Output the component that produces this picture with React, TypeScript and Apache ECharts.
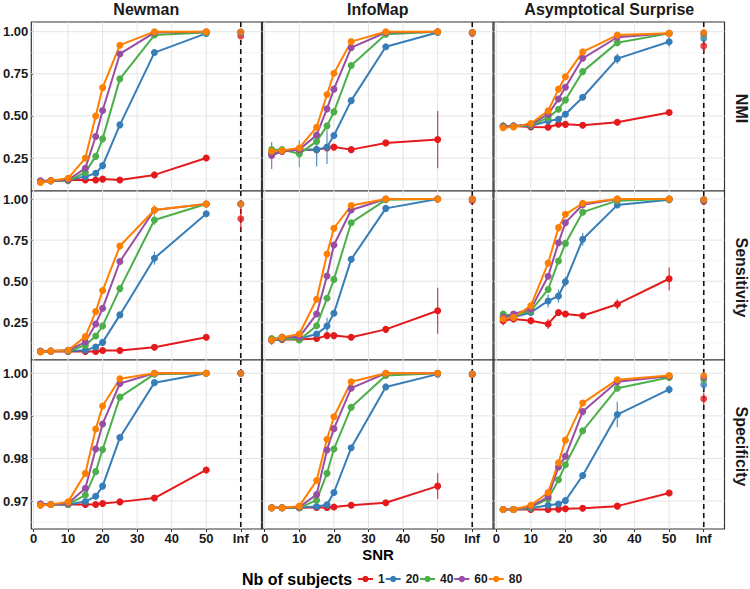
import React, { useEffect, useRef } from "react";
import * as echarts from "echarts";

// ---------------- data ----------------
const groups = ["1", "20", "40", "60", "80"];
const colors = ["#E41A1C", "#377EB8", "#4DAF4A", "#984EA3", "#FF7F00"];
const snr = [2, 5, 10, 15, 18, 20, 25, 35, 50];
const INF_X = 60;
const methods = ["Newman", "InfoMap", "Asymptotical Surprise"];
const metrics = ["NMI", "Sensitivity", "Specificity"];

const xTicks = [0, 10, 20, 30, 40, 50, 60];
const xTickLabels = ["0", "10", "20", "30", "40", "50", "Inf"];
const nmiTicks = [0.25, 0.5, 0.75, 1.0];
const nmiMinor = [0.125, 0.375, 0.625, 0.875];
const sensTicks = [0.25, 0.5, 0.75, 1.0];
const sensMinor = [0.125, 0.375, 0.625, 0.875];
const specTicks = [0.97, 0.98, 0.99, 1.0];
const specMinor = [0.965, 0.975, 0.985, 0.995];

// NMI
const newmanNMI = [
  [0.11, 0.115, 0.12, 0.12, 0.12, 0.125, 0.12, 0.15, 0.25],
  [0.11, 0.115, 0.12, 0.14, 0.16, 0.205, 0.447, 0.876, 0.99],
  [0.11, 0.115, 0.115, 0.165, 0.26, 0.364, 0.72, 0.98, 0.995],
  [0.115, 0.115, 0.12, 0.19, 0.378, 0.532, 0.868, 0.995, 1.0],
  [0.105, 0.115, 0.13, 0.25, 0.5, 0.668, 0.92, 1.0, 1.0],
];
const newmanNMIInf = [0.975, 0.995, 0.997, 0.998, 1.0];
const newmanNMIErr = [];

const infomapNMI = [
  [0.28, 0.29, 0.3, 0.3, 0.31, 0.315, 0.3, 0.34, 0.36],
  [0.28, 0.29, 0.3, 0.3, 0.315, 0.384, 0.591, 0.911, 0.995],
  [0.3, 0.3, 0.275, 0.349, 0.441, 0.524, 0.799, 0.985, 1.0],
  [0.265, 0.29, 0.3, 0.387, 0.542, 0.659, 0.905, 0.995, 1.0],
  [0.29, 0.295, 0.31, 0.433, 0.627, 0.753, 0.941, 1.0, 1.0],
];
const infomapNMIInf = [0.99, 0.995, 0.995, 0.995, 0.997];
const infomapNMIErr = [[0, 50, 0.17], [1, 15, 0.1], [1, 18, 0.1], [2, 10, 0.08], [3, 2, 0.08]];

const asympNMI = [
  [0.44, 0.44, 0.435, 0.433, 0.451, 0.45, 0.445, 0.463, 0.52],
  [0.44, 0.44, 0.44, 0.47, 0.48, 0.51, 0.611, 0.84, 0.94],
  [0.44, 0.44, 0.445, 0.49, 0.54, 0.595, 0.763, 0.935, 0.99],
  [0.435, 0.44, 0.45, 0.51, 0.6, 0.67, 0.842, 0.967, 0.99],
  [0.43, 0.435, 0.455, 0.53, 0.659, 0.733, 0.88, 0.98, 0.99],
];
const asympNMIInf = [0.915, 0.96, 0.98, 0.99, 0.995];
const asympNMIErr = [[1, 35, 0.03], [1, 50, 0.03], [0, 60, 0.04]];

// Sensitivity
const newmanSens = [
  [0.072, 0.072, 0.072, 0.072, 0.072, 0.078, 0.078, 0.098, 0.159],
  [0.072, 0.075, 0.075, 0.08, 0.1, 0.128, 0.295, 0.64, 0.91],
  [0.072, 0.075, 0.075, 0.11, 0.167, 0.228, 0.455, 0.872, 0.97],
  [0.075, 0.075, 0.08, 0.13, 0.24, 0.335, 0.62, 0.933, 0.97],
  [0.07, 0.075, 0.08, 0.163, 0.315, 0.443, 0.714, 0.933, 0.97],
];
const newmanSensInf = [0.88, 0.97, 0.97, 0.97, 0.97];
const newmanSensErr = [[1, 35, 0.04], [2, 35, 0.03], [4, 35, 0.03], [4, 25, 0.02], [0, 60, 0.07]];

const infomapSens = [
  [0.142, 0.146, 0.146, 0.152, 0.169, 0.169, 0.159, 0.207, 0.32],
  [0.14, 0.15, 0.15, 0.179, 0.227, 0.305, 0.633, 0.943, 1.0],
  [0.152, 0.155, 0.142, 0.229, 0.396, 0.511, 0.856, 0.995, 1.0],
  [0.142, 0.16, 0.16, 0.3, 0.532, 0.72, 0.933, 1.0, 1.0],
  [0.142, 0.158, 0.179, 0.39, 0.665, 0.822, 0.96, 1.0, 1.0],
];
const infomapSensInf = [0.99, 1.0, 1.0, 1.0, 1.0];
const infomapSensErr = [[0, 50, 0.14], [0, 35, 0.02], [1, 18, 0.05], [3, 2, 0.03]];

const asympSens = [
  [0.26, 0.27, 0.26, 0.24, 0.31, 0.3, 0.29, 0.36, 0.515],
  [0.28, 0.28, 0.31, 0.38, 0.41, 0.497, 0.755, 0.963, 0.995],
  [0.3, 0.29, 0.32, 0.45, 0.623, 0.73, 0.92, 0.99, 1.0],
  [0.28, 0.3, 0.33, 0.53, 0.734, 0.856, 0.965, 1.0, 1.0],
  [0.27, 0.28, 0.35, 0.61, 0.826, 0.907, 0.974, 1.0, 1.0],
];
const asympSensInf = [0.985, 0.99, 0.995, 0.995, 0.997];
const asympSensErr = [
  [0, 2, 0.03], [0, 15, 0.03], [0, 35, 0.03], [0, 50, 0.07],
  [1, 5, 0.03], [1, 15, 0.04], [1, 18, 0.04], [1, 20, 0.03], [1, 25, 0.04],
  [2, 20, 0.02], [4, 20, 0.02],
];

// Specificity
const newmanSpec = [
  [0.9691, 0.9692, 0.9692, 0.9692, 0.9692, 0.9694, 0.9698, 0.9707, 0.9773],
  [0.9693, 0.9692, 0.9692, 0.9699, 0.9711, 0.9735, 0.9849, 0.9978, 1.0],
  [0.9692, 0.9692, 0.9692, 0.9714, 0.9769, 0.9821, 0.9944, 0.9998, 1.0],
  [0.9693, 0.9692, 0.9694, 0.973, 0.9822, 0.9881, 0.9976, 1.0, 1.0],
  [0.969, 0.9692, 0.9698, 0.9765, 0.9869, 0.9923, 0.9987, 1.0, 1.0],
];
const newmanSpecInf = [1.0, 1.0, 1.0, 1.0, 1.0];
const newmanSpecErr = [[0, 50, 0.0006]];

const infomapSpec = [
  [0.9684, 0.9684, 0.9684, 0.9685, 0.9685, 0.9686, 0.969, 0.9696, 0.9735],
  [0.9684, 0.9684, 0.9685, 0.9687, 0.9691, 0.972, 0.9825, 0.9968, 0.9998],
  [0.9684, 0.9684, 0.9684, 0.9702, 0.9765, 0.9822, 0.992, 0.9995, 1.0],
  [0.9684, 0.9684, 0.9686, 0.9715, 0.982, 0.987, 0.9965, 1.0, 1.0],
  [0.9684, 0.9684, 0.9688, 0.9748, 0.9845, 0.9898, 0.998, 1.0, 1.0],
];
const infomapSpecInf = [0.9997, 0.9998, 0.9998, 0.9998, 0.9998];
const infomapSpecErr = [[0, 50, 0.003]];

const asympSpec = [
  [0.968, 0.968, 0.968, 0.968, 0.9681, 0.9682, 0.9683, 0.9688, 0.9719],
  [0.968, 0.968, 0.9683, 0.969, 0.9693, 0.9701, 0.976, 0.9903, 0.9962],
  [0.968, 0.968, 0.9685, 0.9705, 0.975, 0.9785, 0.9865, 0.9965, 0.999],
  [0.968, 0.968, 0.9687, 0.971, 0.978, 0.9805, 0.991, 0.998, 0.9993],
  [0.968, 0.968, 0.969, 0.972, 0.979, 0.9843, 0.993, 0.9985, 0.9995],
];
const asympSpecInf = [0.994, 0.9973, 0.9985, 0.999, 0.9995];
const asympSpecErr = [[0, 50, 0.0006], [1, 35, 0.003], [1, 50, 0.001], [0, 60, 0.0015], [1, 60, 0.0012]];

const panelLines = [
  [newmanNMI, infomapNMI, asympNMI],
  [newmanSens, infomapSens, asympSens],
  [newmanSpec, infomapSpec, asympSpec],
];
const panelInf = [
  [newmanNMIInf, infomapNMIInf, asympNMIInf],
  [newmanSensInf, infomapSensInf, asympSensInf],
  [newmanSpecInf, infomapSpecInf, asympSpecInf],
];
const panelErr = [
  [newmanNMIErr, infomapNMIErr, asympNMIErr],
  [newmanSensErr, infomapSensErr, asympSensErr],
  [newmanSpecErr, infomapSpecErr, asympSpecErr],
];
const rowTicks = [nmiTicks, sensTicks, specTicks];
const rowMinor = [nmiMinor, sensMinor, specMinor];

// ---------------- layout ----------------
const FONT = "'Liberation Sans', Arial, Helvetica, sans-serif";
const colLeft = [31, 262.5, 494];
const panelW = 230.5;
const rowTop = [22, 191, 360];
const panelH = 169;
const xMin = -0.65;
const xMax = 66;
const yRange = [
  [0.0545, 1.0575],
  [0.0207, 1.0487],
  [0.96343, 1.00312],
];

function buildOption() {
  const grids: any[] = [];
  const xAxes: any[] = [];
  const yAxes: any[] = [];
  const series: any[] = [];

  for (let r = 0; r < 3; r++) {
    for (let c = 0; c < 3; c++) {
      const p = r * 3 + c;
      grids.push({
        left: colLeft[c],
        top: rowTop[r],
        width: panelW,
        height: panelH,
        show: true,
        backgroundColor: "#ffffff",
        borderColor: "#333333",
        borderWidth: 1.2,
        containLabel: false,
      });
      const bottomRow = r === 2;
      const leftCol = c === 0;
      xAxes.push({
        gridIndex: p,
        type: "value",
        min: xMin,
        max: xMax,
        axisLine: { show: false },
        splitLine: { show: false },
        axisTick: bottomRow
          ? { show: true, customValues: xTicks, length: 3, lineStyle: { color: "#333", width: 1 } }
          : { show: false },
        axisLabel: bottomRow
          ? {
              show: true,
              customValues: xTicks,
              margin: 3,
              fontSize: 13,
              fontWeight: "bold",
              color: "#1a1a1a",
              fontFamily: FONT,
              formatter: (v: number) => xTickLabels[xTicks.indexOf(v)] ?? String(v),
            }
          : { show: false },
      });
      const [ymin, ymax] = yRange[r];
      yAxes.push({
        gridIndex: p,
        type: "value",
        min: ymin,
        max: ymax,
        axisLine: { show: false },
        splitLine: { show: false },
        axisTick: leftCol
          ? { show: true, customValues: rowTicks[r], length: 2, lineStyle: { color: "#333", width: 1 } }
          : { show: false },
        axisLabel: leftCol
          ? {
              show: true,
              customValues: rowTicks[r],
              margin: 3,
              fontSize: 13,
              fontWeight: "bold",
              color: "#1a1a1a",
              fontFamily: FONT,
              formatter: (v: number) => v.toFixed(2),
            }
          : { show: false },
      });

      // grid lines + dashed Inf line
      const yMid = (ymin + ymax) / 2;
      const gl: any[] = [];
      rowMinor[r].forEach((v) => gl.push([30, v, 1]));
      rowTicks[r].forEach((v) => gl.push([30, v, 0]));
      xTicks.forEach((v) => gl.push([v, yMid, 2]));
      gl.push([INF_X, yMid, 4]);
      series.push({
        type: "custom",
        xAxisIndex: p,
        yAxisIndex: p,
        silent: true,
        z: 1,
        dimensions: ["x", "y", "k"],
        encode: { x: 0, y: 1 },
        data: gl,
        renderItem: (params: any, api: any) => {
          const cs = params.coordSys;
          const k = api.value(2);
          if (k === 0 || k === 1) {
            const y = api.coord([api.value(0), api.value(1)])[1];
            return {
              type: "line",
              shape: { x1: cs.x, y1: y, x2: cs.x + cs.width, y2: y },
              style: { stroke: k === 0 ? "#e4e4e4" : "#f0f0f0", lineWidth: k === 0 ? 1 : 0.6 },
            };
          }
          const x = api.coord([api.value(0), api.value(1)])[0];
          if (k === 4) {
            return {
              type: "line",
              shape: { x1: x, y1: cs.y, x2: x, y2: cs.y + cs.height },
              style: { stroke: "#111111", lineWidth: 1.6, lineDash: [5, 4] },
            };
          }
          return {
            type: "line",
            shape: { x1: x, y1: cs.y, x2: x, y2: cs.y + cs.height },
            style: { stroke: k === 2 ? "#e4e4e4" : "#f0f0f0", lineWidth: k === 2 ? 1 : 0.6 },
          };
        },
      });

      const lines = panelLines[r][c];
      const inf = panelInf[r][c];

      // error bars
      const errData = panelErr[r][c].map(([g, x, e]) => {
        const y = x === INF_X ? inf[g] : lines[g][snr.indexOf(x)];
        return [x, y, e, g];
      });
      series.push({
        type: "custom",
        xAxisIndex: p,
        yAxisIndex: p,
        silent: true,
        z: 2,
        dimensions: ["x", "y", "e", "g"],
        encode: { x: 0, y: 1 },
        data: errData,
        renderItem: (params: any, api: any) => {
          const x = api.value(0);
          const y = api.value(1);
          const e = api.value(2);
          const g = api.value(3);
          const p1 = api.coord([x, y - e]);
          const p2 = api.coord([x, y + e]);
          return {
            type: "line",
            shape: { x1: p1[0], y1: p1[1], x2: p2[0], y2: p2[1] },
            style: { stroke: colors[g], lineWidth: 1.2, opacity: 0.85 },
          };
        },
      });

      for (let g = 0; g < groups.length; g++) {
        series.push({
          type: "line",
          name: groups[g],
          xAxisIndex: p,
          yAxisIndex: p,
          z: 3,
          data: snr.map((x, i) => [x, lines[g][i]]),
          symbol: "circle",
          symbolSize: 7,
          showSymbol: true,
          color: colors[g],
          lineStyle: { color: colors[g], width: 2 },
          itemStyle: { color: colors[g] },
          emphasis: { disabled: true },
        });
        series.push({
          type: "scatter",
          name: groups[g],
          xAxisIndex: p,
          yAxisIndex: p,
          z: 3,
          data: [[INF_X, inf[g]]],
          symbol: "circle",
          symbolSize: 7,
          itemStyle: { color: colors[g] },
          emphasis: { disabled: true },
        });
      }
    }
  }

  const graphics: any[] = [];
  methods.forEach((m, c) => {
    graphics.push({
      type: "text",
      x: colLeft[c] + panelW / 2,
      y: 9,
      style: {
        text: m,
        fill: "#1a1a1a",
        font: `bold 16px ${FONT}`,
        align: "center",
        verticalAlign: "middle",
        textAlign: "center",
        textVerticalAlign: "middle",
      },
    });
  });
  metrics.forEach((m, r) => {
    graphics.push({
      type: "text",
      x: 741,
      y: rowTop[r] + panelH / 2 + 2,
      rotation: -Math.PI / 2,
      style: {
        text: m,
        fill: "#1a1a1a",
        font: `bold 16px ${FONT}`,
        align: "center",
        verticalAlign: "middle",
        textAlign: "center",
        textVerticalAlign: "middle",
      },
    });
  });
  graphics.push({
    type: "text",
    x: 378,
    y: 554,
    style: {
      text: "SNR",
      fill: "#000",
      font: `bold 15px ${FONT}`,
      align: "center",
      verticalAlign: "middle",
      textAlign: "center",
      textVerticalAlign: "middle",
    },
  });
  graphics.push({
    type: "text",
    x: 242,
    y: 579,
    style: {
      text: "Nb of subjects",
      fill: "#000",
      font: `bold 16px ${FONT}`,
      align: "left",
      verticalAlign: "middle",
      textAlign: "left",
      textVerticalAlign: "middle",
    },
  });

  return {
    animation: false,
    backgroundColor: "#ffffff",
    grid: grids,
    xAxis: xAxes,
    yAxis: yAxes,
    series,
    graphic: graphics,
    legend: {
      data: groups,
      left: 357,
      top: 573,
      padding: 0,
      itemWidth: 15,
      itemHeight: 8,
      itemGap: 0,
      selectedMode: false,
      textStyle: { fontSize: 12, fontWeight: "bold", color: "#1a1a1a", fontFamily: FONT },
    },
  };
}

export default function App() {
  const ref = useRef<HTMLDivElement>(null);
  useEffect(() => {
    document.body.style.margin = "0";
    if (!ref.current) return;
    const chart = echarts.init(ref.current, undefined, { renderer: "svg" });
    chart.setOption(buildOption() as any);
    return () => chart.dispose();
  }, []);
  return <div ref={ref} style={{ width: 750, height: 589 }} />;
}
